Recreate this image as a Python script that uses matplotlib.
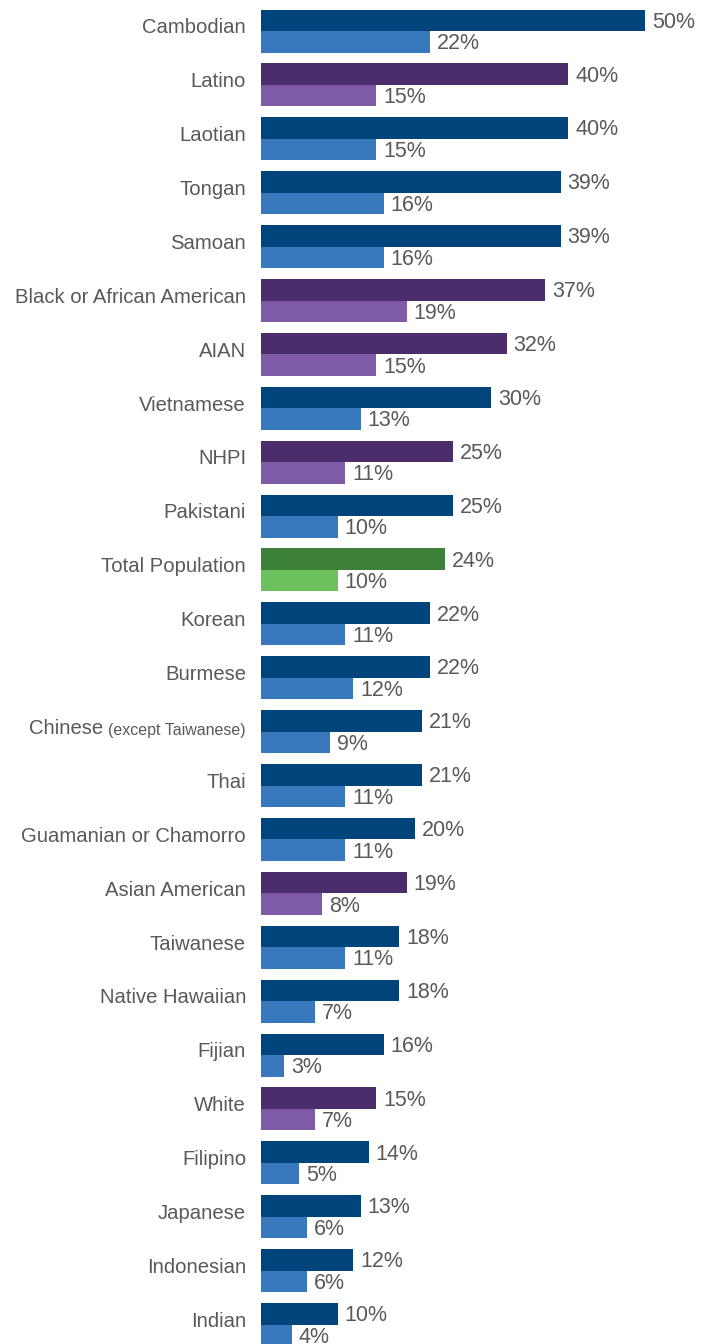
import matplotlib
matplotlib.use("Agg")
import matplotlib.pyplot as plt
import numpy as np

categories = [
    "Cambodian", "Latino", "Laotian", "Tongan", "Samoan",
    "Black or African American", "AIAN", "Vietnamese", "NHPI", "Pakistani",
    "Total Population", "Korean", "Burmese", "Chinese", "Thai",
    "Guamanian or Chamorro", "Asian American", "Taiwanese", "Native Hawaiian",
    "Fijian", "White", "Filipino", "Japanese", "Indonesian", "Indian",
]
group_kind = [
    "aa", "race", "aa", "aa", "aa",
    "race", "race", "aa", "race", "aa",
    "total", "aa", "aa", "aa", "aa",
    "aa", "race", "aa", "aa",
    "aa", "race", "aa", "aa", "aa", "aa",
]
series_a = [50, 40, 40, 39, 39, 37, 32, 30, 25, 25, 24, 22, 22, 21, 21,
            20, 19, 18, 18, 16, 15, 14, 13, 12, 10]
series_b = [22, 15, 15, 16, 16, 19, 15, 13, 11, 10, 10, 11, 12, 9, 11,
            11, 8, 11, 7, 3, 7, 5, 6, 6, 4]

palette = {
    "aa": ("#00447c", "#3878bd"),
    "race": ("#4b2d6b", "#7f5aa6"),
    "total": ("#3d8037", "#6cc05e"),
}
TEXT = "#595959"
FONT = ["Liberation Sans", "DejaVu Sans"]

W, H, DPI = 709, 1344, 100
fig = plt.figure(figsize=(W / DPI, H / DPI), dpi=DPI)
ax = fig.add_axes([0, 0, 1, 1])

px_per_unit = 7.68
x0_px = 261
pitch = 53.9
first_mid_px = 31
bar_h = 21.5 / pitch

ax.set_xlim(-x0_px / px_per_unit, (W - x0_px) / px_per_unit)
ax.set_ylim((H - first_mid_px) / pitch, -first_mid_px / pitch)

pos = np.arange(len(categories))
dark = [palette[k][0] for k in group_kind]
light = [palette[k][1] for k in group_kind]

# first series above the group line, second series just below it
ax.barh(pos - bar_h / 2, series_a, height=bar_h, color=dark, linewidth=0)
ax.barh(pos + bar_h / 2, series_b, height=bar_h, color=light, linewidth=0)

lab_fs = 14.6
val_fs = 15.5
nudge = 0.035
for i, (a, b) in enumerate(zip(series_a, series_b)):
    ax.text(a + 0.9, i - bar_h / 2 + nudge, f"{a}%", va="center", ha="left",
            fontsize=val_fs, color=TEXT, family=FONT)
    ax.text(b + 0.9, i + bar_h / 2 + nudge, f"{b}%", va="center", ha="left",
            fontsize=val_fs, color=TEXT, family=FONT)

label_x = -15 / px_per_unit
for i, name in enumerate(categories):
    y = i - 0.06
    if name == "Chinese":
        small = ax.text(label_x, y + 0.03, "(except Taiwanese)", ha="right",
                        va="center", fontsize=11.5, color=TEXT, family=FONT)
        fig.canvas.draw()
        bb = small.get_window_extent()
        left_data = ax.transData.inverted().transform((bb.x0 - 5, 0))[0]
        ax.text(left_data, y, "Chinese", ha="right", va="center",
                fontsize=lab_fs, color=TEXT, family=FONT)
    else:
        ax.text(label_x, y, name, ha="right", va="center",
                fontsize=lab_fs, color=TEXT, family=FONT)

ax.axis("off")
fig.savefig("out.png", dpi=DPI)
